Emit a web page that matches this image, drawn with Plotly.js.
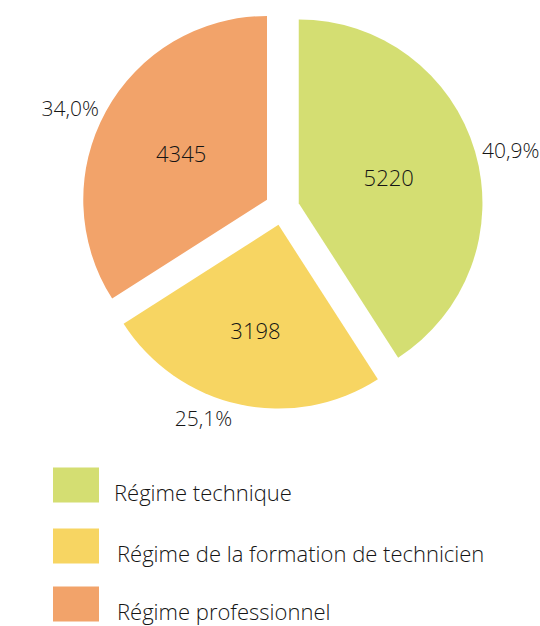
<!DOCTYPE html>
<html>
<head>
<meta charset="utf-8">
<script src="https://cdn.plot.ly/plotly-3.0.1.min.js"></script>
<style>
  html, body { margin: 0; padding: 0; background: #fff; }
  #chart { width: 540px; height: 626px; }
</style>
</head>
<body>
<div id="chart"></div>
<script>
// Données
const labels = ['Régime technique', 'Régime de la formation de technicien', 'Régime professionnel'];
const values = [5220, 3198, 4345];
const colors = ['#d4de72', '#f7d562', '#f2a36a'];

const FONT = '"Open Sans", Lato, sans-serif';
const TEXT_COLOR = '#151515';
const PULL = 0.094;

// plot area in pixels (used for the hand-made legend)
const W = 540, TOP = 7, AREA_H = 402;
const px = (x) => x / W;
const py = (y) => (TOP + AREA_H - y) / AREA_H;
const DOMAIN_X = [0.045, 1];

// values inside the slices
const traceValues = {
    type: 'pie',
    labels: labels,
    values: values,
    sort: false,
    direction: 'clockwise',
    rotation: 0,
    pull: values.map(() => PULL),
    marker: { colors: colors, line: { width: 0 } },
    textinfo: 'value',
    textposition: 'inside',
    insidetextorientation: 'horizontal',
    insidetextfont: { family: FONT, size: 22, color: TEXT_COLOR, weight: 300 },
    domain: { x: DOMAIN_X, y: [0, 1] },
    hoverinfo: 'label+value+percent',
    showlegend: false
};

// percentages outside (transparent copy of the pie)
const tracePercent = {
    type: 'pie',
    labels: labels,
    values: values,
    sort: false,
    direction: 'clockwise',
    rotation: 0,
    pull: values.map(() => PULL),
    marker: { colors: values.map(() => 'rgba(0,0,0,0)'), line: { width: 0 } },
    texttemplate: '%{percent:.1%}',
    textposition: 'outside',
    outsidetextfont: { family: FONT, size: 21, color: TEXT_COLOR, weight: 300 },
    domain: { x: DOMAIN_X, y: [0, 1] },
    hoverinfo: 'skip',
    showlegend: false
};

// legend: big swatches + labels
const shapes = [];
const annotations = [];
const legendRows = [485, 546, 604];
const legendTextX = [112, 115, 115];
labels.forEach((lab, i) => {
    const cy = legendRows[i];
    shapes.push({
        type: 'rect', xref: 'paper', yref: 'paper',
        x0: px(53), x1: px(99), y0: py(cy - 17.5), y1: py(cy + 17.5),
        fillcolor: colors[i], line: { width: 0 }
    });
    annotations.push({
        xref: 'paper', yref: 'paper',
        x: px(legendTextX[i]), y: py(cy + 7),
        xanchor: 'left', yanchor: 'middle',
        text: lab, showarrow: false,
        font: { family: FONT, size: 22, color: TEXT_COLOR, weight: 300 }
    });
});

const layout = {
    width: 540,
    height: 626,
    margin: { l: 0, r: 0, t: TOP, b: 626 - TOP - AREA_H },
    paper_bgcolor: '#ffffff',
    plot_bgcolor: '#ffffff',
    separators: ', ',
    font: { family: FONT, color: TEXT_COLOR },
    showlegend: false,
    shapes: shapes,
    annotations: annotations
};

Plotly.newPlot('chart', [traceValues, tracePercent], layout, { displayModeBar: false, staticPlot: true });
</script>
</body>
</html>
